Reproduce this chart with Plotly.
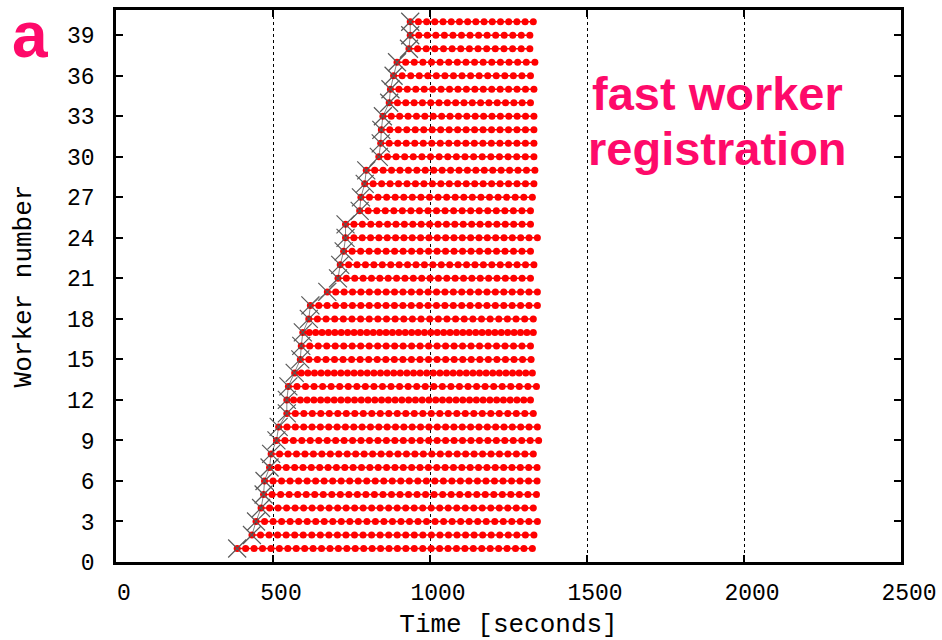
import plotly.graph_objects as go

# ---- data ----
workers = list(range(1, 41))
start_times = [386, 433, 446, 462, 470, 473, 489, 494, 511, 518,
               544, 544, 549, 569, 587, 590, 595, 614, 619, 673,
               707, 714, 725, 731, 731, 776, 780, 792, 797, 837,
               843, 845, 850, 870, 874, 884, 895, 933, 937, 937]
end_times = [1326, 1331, 1342, 1329, 1339, 1341, 1341, 1329, 1346, 1342,
             1329, 1320, 1339, 1326, 1322, 1320, 1329, 1329, 1342, 1342,
             1320, 1331, 1320, 1342, 1320, 1320, 1326, 1331, 1334, 1331,
             1331, 1331, 1331, 1320, 1331, 1320, 1334, 1318, 1318, 1329]
tasks_done = [35, 33, 33, 32, 32, 32, 32, 31, 31, 31,
              29, 36, 29, 36, 27, 27, 36, 26, 27, 25,
              23, 23, 22, 23, 22, 20, 20, 20, 20, 18,
              18, 18, 18, 17, 17, 16, 16, 14, 14, 15]
x_ticks = [0, 500, 1000, 1500, 2000, 2500]
y_ticks = list(range(0, 40, 3))

# ---- build task-completion points per worker ----
dot_x, dot_y = [], []
for w, s, e, n in zip(workers, start_times, end_times, tasks_done):
    step = (e - s) / n
    for k in range(n + 1):
        dot_x.append(s + k * step)
        dot_y.append(w)
    dot_x.append(None)
    dot_y.append(None)

RED = "#ff0000"
PINK = "#fe0a6a"
MONO = "Liberation Mono, Courier New, monospace"
SANS = "Liberation Sans, Arial, sans-serif"

fig = go.Figure()
fig.add_trace(go.Scatter(
    x=dot_x, y=dot_y, mode="lines+markers",
    line=dict(color=RED, width=1.5),
    marker=dict(color=RED, size=7, line=dict(width=0)),
    showlegend=False, hoverinfo="skip"))
fig.add_trace(go.Scatter(
    x=start_times, y=workers, mode="lines+markers",
    line=dict(color="#333333", width=0.6),
    marker=dict(symbol="x-thin-open", size=18, color="#5a5a5a",
                line=dict(color="#5a5a5a", width=1.2)),
    showlegend=False, hoverinfo="skip"))

fig.update_layout(
    width=942, height=640,
    margin=dict(l=116, r=41, t=10, b=78, autoexpand=False),
    paper_bgcolor="white", plot_bgcolor="white",
    font=dict(family=MONO, color="black", size=23),
)
fig.update_xaxes(
    range=[0, 2500], tickvals=x_ticks, ticktext=[str(v) for v in x_ticks],
    showgrid=True, gridcolor="black", griddash="dot", gridwidth=1,
    zeroline=False, showline=True, linecolor="black", linewidth=2.5,
    mirror="ticks", ticks="inside", ticklen=7, tickwidth=2, tickcolor="black",
    tickfont=dict(family=MONO, size=23), ticklabelstandoff=8, ticklabelshift=8,
    title=dict(text="Time [seconds]", font=dict(family=MONO, size=26), standoff=17),
    automargin=False,
)
fig.update_yaxes(
    range=[0, 40.87], tickvals=y_ticks, ticktext=[str(v) for v in y_ticks],
    showgrid=False, zeroline=False, showline=True, linecolor="black", linewidth=2.5,
    mirror="ticks", ticks="inside", ticklen=7, tickwidth=2, tickcolor="black",
    tickfont=dict(family=MONO, size=23), ticklabelstandoff=14,
    title=dict(text="Worker number", font=dict(family=MONO, size=26), standoff=28),
    automargin=False,
)

fig.add_annotation(
    xref="paper", yref="paper", x=0.766, y=0.8496,
    text="fast worker", showarrow=False,
    font=dict(family=SANS, size=47, color=PINK, weight="bold"),
    xanchor="center", yanchor="middle")
fig.add_annotation(
    xref="paper", yref="paper", x=0.766, y=0.75,
    text="registration", showarrow=False,
    font=dict(family=SANS, size=47, color=PINK, weight="bold"),
    xanchor="center", yanchor="middle")
fig.add_annotation(
    xref="paper", yref="paper", x=-0.11, y=0.955,
    text="a", showarrow=False,
    font=dict(family=SANS, size=64, color=PINK, weight="bold"),
    xanchor="center", yanchor="middle")

fig.write_html("out.html")
